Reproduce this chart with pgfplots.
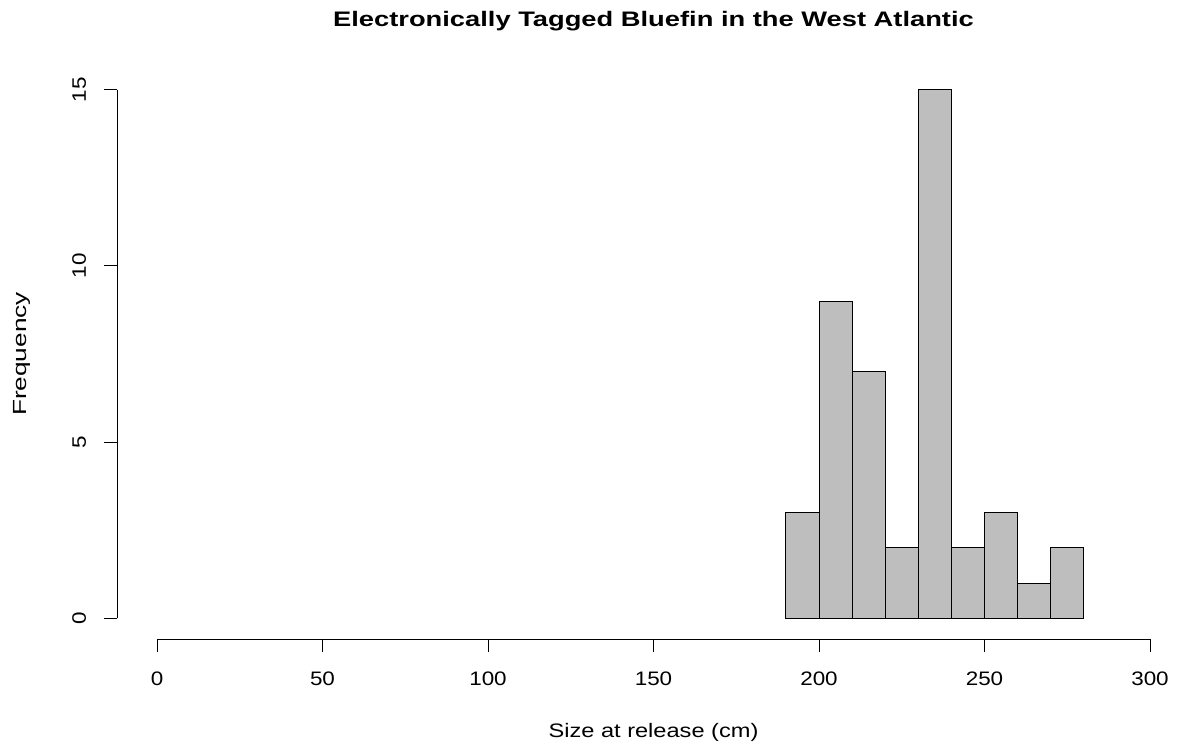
\documentclass[border=0pt]{standalone}
\usepackage{fontspec}
\setmainfont{Liberation Sans}
\newfontfamily\tickf[FakeStretch=1.15]{Liberation Sans}
\newfontfamily\xlabf[FakeStretch=1.21]{Liberation Sans}
\newfontfamily\ylabf[FakeStretch=1.38]{Liberation Sans}
\newfontfamily\titf[FakeStretch=1.3]{Liberation Sans}
\usepackage{pgfplots}
\pgfplotsset{compat=1.18}
\definecolor{bargray}{HTML}{BEBEBE}
\begin{document}
\begin{tikzpicture}
\begin{axis}[
  x=3.31bp, y=35.24bp,
  xmin=-12, xmax=312, ymin=-0.6, ymax=15.6,
  axis line style={draw=none},
  xtick={0,50,...,300}, ytick={0,5,10,15},
  xtick pos=lower, ytick pos=left,
  tick align=outside, major tick length=13bp,
  tick style={black, line width=0.8bp},
  /pgf/number format/assume math mode=true,
  xticklabel style={font=\tickf\fontsize{19.5bp}{23bp}\selectfont, anchor=north, inner sep=0pt, yshift=-19.5bp},
  yticklabel style={font=\tickf\fontsize{19.5bp}{23bp}\selectfont, rotate=90, anchor=south, inner sep=0pt, yshift=18bp},
  title={Electronically Tagged Bluefin in the West Atlantic},
  title style={font=\titf\bfseries\fontsize{21bp}{25bp}\selectfont, at={(axis description cs:0.5,1.0623)}, anchor=base, inner sep=0pt},
  xlabel={Size at release (cm)},
  xlabel style={font=\xlabf\fontsize{19.5bp}{23bp}\selectfont, at={(axis description cs:0.5,-0.1709)}, anchor=base, inner sep=0pt},
  ylabel={Frequency},
  ylabel style={font=\ylabf\fontsize{19bp}{23bp}\selectfont, at={(axis description cs:-0.0845,0.5)}, anchor=base, inner sep=0pt},
  clip=false,
]
\addplot[ybar interval, fill=bargray, draw=black, line width=1bp] coordinates {(190,3) (200,9) (210,7) (220,2) (230,15) (240,2) (250,3) (260,1) (270,2) (280,2)};
\draw[black, line width=0.8bp] (axis cs:0,-0.6) -- (axis cs:300,-0.6);
\draw[black, line width=0.8bp] (axis cs:-12,0) -- (axis cs:-12,15);
\coordinate (bbsw) at (axis cs:-47.43,-3.624);
\coordinate (bbne) at (axis cs:308.76,17.545);
\end{axis}
\pgfresetboundingbox
\useasboundingbox (bbsw) rectangle (bbne);
\end{tikzpicture}
\end{document}
